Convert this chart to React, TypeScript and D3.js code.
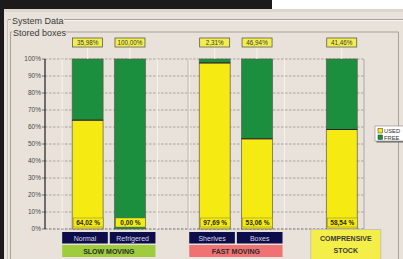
import React from 'react';
import { scaleBand, scaleLinear } from 'd3';

const categories = ['Normal', 'Refrigered', 'Sherlves', 'Boxes', 'COMPRENSIVE STOCK'];
const groupOf = ['SLOW MOVING', 'SLOW MOVING', 'FAST MOVING', 'FAST MOVING', 'COMPRENSIVE STOCK'];
const usedPct = [64.02, 0.0, 97.69, 53.06, 58.54];
const freePct = [35.98, 100.0, 2.31, 46.94, 41.46];
const yTicks = [0, 10, 20, 30, 40, 50, 60, 70, 80, 90, 100];
const groupNames = ['SLOW MOVING', 'FAST MOVING', 'COMPRENSIVE STOCK'];
const groupColors = ['#9fcc3c', '#f07272', '#f4ee48'];
const legendItems = ['USED', 'FREE'];

const W = 403;
const H = 259;
const USED = '#f5ea12';
const FREE = '#1b8f3e';
const BG = '#e8e2da';
const FONT = '"Liberation Sans", Arial, sans-serif';

// slot index per bar: one empty slot between groups
const slots: number[] = [];
{
  let s = 0;
  categories.forEach((_, i) => {
    if (i > 0 && groupOf[i] !== groupOf[i - 1]) s += 1;
    slots.push(s);
    s += 1;
  });
}
const nSlots = slots[slots.length - 1] + 1;

const fmt = (v: number) => v.toFixed(2).replace('.', ',');

export default function App() {
  const x = scaleBand<number>()
    .domain(Array.from({ length: nSlots }, (_, i) => i))
    .range([62, 364])
    .paddingInner(0.27)
    .paddingOuter(0.2)
    .align(0.6);
  const bw = x.bandwidth();
  const y = scaleLinear().domain([0, 100]).range([229, 59]);
  const plotL = 45;
  const plotR = 364;

  const groups = groupNames.map((g, gi) => {
    const idx = categories.map((_, i) => i).filter((i) => groupOf[i] === g);
    return { name: g, color: groupColors[gi], idx };
  });

  return (
    <svg
      width={W}
      height={H}
      style={{ position: 'absolute', left: 0, top: 0, fontFamily: FONT }}
    >
      <rect x={0} y={0} width={W} height={H} fill={BG} />
      {/* window chrome */}
      <rect x={0} y={0} width={272} height={9} fill="#1c1a1b" />
      <rect x={272} y={0} width={W - 272} height={9} fill="#ffffff" />
      <rect x={0} y={9} width={W} height={3} fill="#dcd6ce" />
      <rect x={0} y={0} width={4} height={H} fill="#1c1a1b" />

      {/* group frames */}
      <path d="M8,259 V19.5 H11 M64,19.5 H403" stroke="#a8a29a" fill="none" />
      <path d="M8.5,259 V20.5 M64,20.5 H403" stroke="#ffffff" strokeWidth={0.6} fill="none" />
      <text x={12} y={23.5} fontSize={9} fill="#3a3a3a">System Data</text>
      <path d="M10.5,259 V32 H12 M66,32 H398.5 V259" stroke="#a8a29a" fill="none" />
      <text x={13} y={35.5} fontSize={9} fill="#3a3a3a">Stored boxes</text>

      {/* grid */}
      {yTicks.map((t) => (
        <g key={t}>
          <line
            x1={plotL}
            x2={plotR}
            y1={y(t)}
            y2={y(t)}
            stroke={t === 0 ? '#555' : '#9a948c'}
            strokeWidth={0.8}
            strokeDasharray="2.5,1.5"
          />
          <line x1={plotL - 3} x2={plotL} y1={y(t)} y2={y(t)} stroke="#555" strokeWidth={0.8} />
          <text
            x={plotL - 4}
            y={y(t) + 2.3}
            fontSize={6.5}
            textAnchor="end"
            fill="#4a4a4a"
          >
            {t}%
          </text>
        </g>
      ))}
      {groups
        .filter((g) => g.idx.length > 1)
        .map((g) => {
          const l = (x(slots[g.idx[0]]) ?? 0) - 10;
          const r = (x(slots[g.idx[g.idx.length - 1]]) ?? 0) + bw + 10;
          return (
            <g key={g.name}>
              <line x1={l} x2={l} y1={y(100)} y2={y(0)} stroke="#f6f3ef" strokeWidth={1} />
              <line x1={r + 2} x2={r + 2} y1={y(100)} y2={y(0)} stroke="#f6f3ef" strokeWidth={1} />
            </g>
          );
        })}
      <line x1={188} x2={188} y1={y(100)} y2={y(0)} stroke="#b4ada4" strokeWidth={0.8} />
      <line x1={plotR} x2={plotR} y1={y(100)} y2={y(0)} stroke="#a09a92" strokeWidth={0.8} />
      <line x1={plotL} x2={plotL} y1={y(100)} y2={y(0)} stroke="#1e1e1e" strokeWidth={1.2} />

      {/* bars */}
      {categories.map((c, i) => {
        const bx = x(slots[i]) ?? 0;
        const cx = bx + bw / 2;
        return (
          <g key={c}>
            <rect
              x={bx}
              y={y(100)}
              width={bw}
              height={y(usedPct[i]) - y(100)}
              fill={FREE}
              stroke="#5a5a50"
              strokeWidth={0.7}
            />
            {usedPct[i] > 0 && (
              <rect
                x={bx}
                y={y(usedPct[i])}
                width={bw}
                height={y(0) - y(usedPct[i])}
                fill={USED}
                stroke="#5a5a50"
                strokeWidth={0.7}
              />
            )}
            {usedPct[i] > 0 && (
              <line
                x1={bx}
                x2={bx + bw}
                y1={y(usedPct[i])}
                y2={y(usedPct[i])}
                stroke="#222"
                strokeWidth={1}
              />
            )}
            {/* top label */}
            <line x1={cx} x2={cx} y1={47} y2={y(100)} stroke="#f6f3ef" strokeWidth={1} />
            <rect
              x={cx - 15}
              y={38}
              width={30}
              height={9}
              fill="#f2ee52"
              stroke="#4a4a40"
              strokeWidth={0.7}
            />
            <text x={cx} y={45} fontSize={6.3} textAnchor="middle" fill="#3a3a30">
              {fmt(freePct[i])}%
            </text>
            {/* bottom label */}
            <rect
              x={bx + 1}
              y={y(0) - 11}
              width={bw - 1}
              height={9}
              fill={USED}
              stroke="#6a6a40"
              strokeWidth={0.4}
            />
            <text
              x={cx + 0.5}
              y={y(0) - 4}
              fontSize={6.5}
              fontWeight="bold"
              textAnchor="middle"
              fill="#2a2a20"
            >
              {fmt(usedPct[i])} %
            </text>
          </g>
        );
      })}

      {/* category / group boxes */}
      {groups.map((g) => {
        if (g.idx.length > 1) {
          const l = (x(slots[g.idx[0]]) ?? 0) - 10;
          const r = (x(slots[g.idx[g.idx.length - 1]]) ?? 0) + bw + 10;
          const cw = (r - l - 2 * (g.idx.length - 1)) / g.idx.length;
          return (
            <g key={g.name}>
              {g.idx.map((ci, k) => {
                const bx = l + k * (cw + 2);
                return (
                  <g key={ci}>
                    <rect x={bx} y={232} width={cw} height={11.5} fill="#0d0d4a" />
                    <text
                      x={bx + cw / 2}
                      y={240.5}
                      fontSize={7}
                      textAnchor="middle"
                      fill="#d8d8e8"
                    >
                      {categories[ci]}
                    </text>
                  </g>
                );
              })}
              <rect x={l} y={245} width={r - l} height={12} fill={g.color} />
              <text
                x={(l + r) / 2}
                y={253.8}
                fontSize={7}
                fontWeight="bold"
                textAnchor="middle"
                fill="#2c2c2c"
              >
                {g.name}
              </text>
            </g>
          );
        }
        const bx = x(slots[g.idx[0]]) ?? 0;
        const cx = bx + bw / 2 + 4;
        const words = g.name.split(' ');
        return (
          <g key={g.name}>
            <rect
              x={cx - 35}
              y={229.5}
              width={70}
              height={30}
              fill={g.color}
              stroke="#c8c2b8"
              strokeWidth={1}
            />
            {words.map((w, k) => (
              <text
                key={w}
                x={cx}
                y={240.5 + k * 12}
                fontSize={7}
                fontWeight="bold"
                textAnchor="middle"
                fill="#3a3a3a"
              >
                {w}
              </text>
            ))}
          </g>
        );
      })}

      {/* legend */}
      <rect x={376.5} y={127.5} width={30} height={15} fill="#666" />
      <rect x={375} y={126} width={30} height={15} fill="#ffffff" stroke="#9a948c" strokeWidth={0.7} />
      {legendItems.map((l, k) => (
        <g key={l}>
          <rect
            x={378}
            y={128.5 + k * 6.5}
            width={4.5}
            height={4.5}
            fill={k === 0 ? USED : FREE}
            stroke="#333"
            strokeWidth={0.5}
          />
          <text x={384} y={133 + k * 6.5} fontSize={5.8} fill="#333">
            {l}
          </text>
        </g>
      ))}
    </svg>
  );
}
